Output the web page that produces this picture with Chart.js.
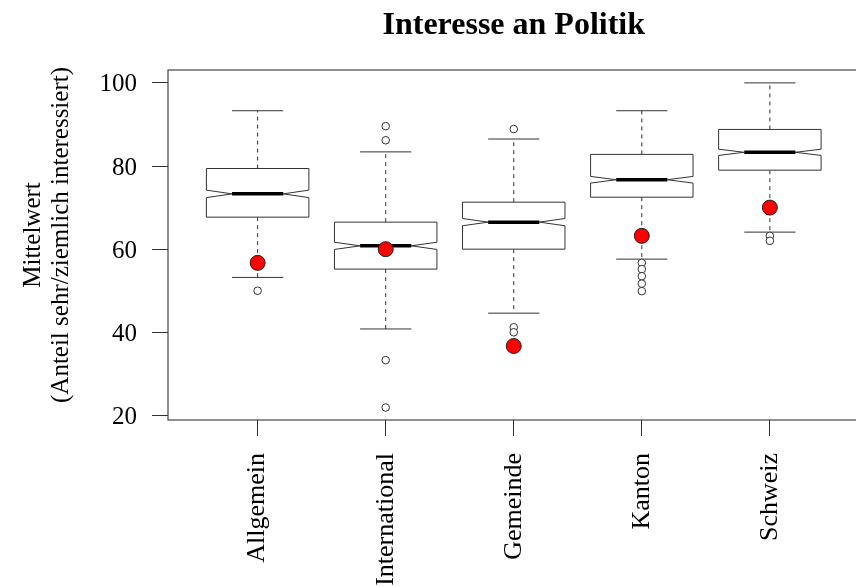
<!DOCTYPE html>
<html>
<head>
<meta http-equiv="content-type" content="text/html; charset=UTF-8">
<script src="https://cdn.jsdelivr.net/npm/chart.js@4/dist/chart.umd.min.js"></script>
<style>
  html, body { margin: 0; padding: 0; overflow: hidden; background: #fff; }
  canvas { display: block; }
</style>
</head>
<body>
<canvas id="box-chart" width="868" height="586"></canvas>
<script>
// categories and box statistics
var categories = ['Allgemein', 'International', 'Gemeinde', 'Kanton', 'Schweiz'];
var whiskerLow = [53.2, 40.8, 44.6, 57.6, 64.1];
var q1 = [67.7, 55.2, 60.0, 72.5, 79.0];
var median = [73.3, 60.8, 66.5, 76.7, 83.3];
var q3 = [79.4, 66.5, 71.3, 82.8, 88.8];
var whiskerHigh = [93.3, 83.4, 86.5, 93.3, 100.0];
var notch = [0.9, 0.87, 0.87, 0.8, 0.75];
// outliers per category
var outliers = [
  [50.0],
  [89.6, 86.2, 33.3, 21.9],
  [88.9, 41.2, 40.0],
  [56.7, 55.2, 53.5, 51.7, 49.9],
  [63.2, 62.0]
];
// red points (Mittelwert)
var means = [56.7, 60.0, 36.7, 63.2, 70.0];
var yTicks = [20, 40, 60, 80, 100];

var serif = "'Liberation Serif', 'DejaVu Serif', serif";
var boxWidth = 0.8;

var outlierPoints = [];
outliers.forEach(function(list, i) {
  list.forEach(function(v) { outlierPoints.push({x: i + 1, y: v}); });
});
var meanPoints = means.map(function(v, i) { return {x: i + 1, y: v}; });

function hline(ctx, x1, x2, y) {
  ctx.beginPath(); ctx.moveTo(x1, y); ctx.lineTo(x2, y); ctx.stroke();
}
function vline(ctx, x, y1, y2) {
  ctx.beginPath(); ctx.moveTo(x, y1); ctx.lineTo(x, y2); ctx.stroke();
}

// draws frame, notched boxes, title and y axis title
var boxPlugin = {
  id: 'notchedBoxes',
  beforeDatasetsDraw: function(chart) {
    var ctx = chart.ctx, xs = chart.scales.x, ys = chart.scales.y, a = chart.chartArea;
    ctx.save();
    ctx.strokeStyle = '#222';
    ctx.lineWidth = 1;
    ctx.strokeRect(a.left, a.top, a.right - a.left, a.bottom - a.top);

    for (var i = 0; i < categories.length; i++) {
      var cx = xs.getPixelForValue(i + 1);
      var hw = xs.getPixelForValue(i + 1 + boxWidth / 2) - cx;
      var yLo = ys.getPixelForValue(whiskerLow[i]);
      var yHi = ys.getPixelForValue(whiskerHigh[i]);
      var yq1 = ys.getPixelForValue(q1[i]);
      var yq3 = ys.getPixelForValue(q3[i]);
      var ym = ys.getPixelForValue(median[i]);
      var nLo = ys.getPixelForValue(median[i] - notch[i]);
      var nHi = ys.getPixelForValue(median[i] + notch[i]);

      ctx.lineWidth = 1;
      ctx.strokeStyle = '#333';
      // whiskers
      ctx.setLineDash([4, 4]);
      vline(ctx, cx, yq3, yHi);
      vline(ctx, cx, yq1, yLo);
      ctx.setLineDash([]);
      hline(ctx, cx - hw / 2, cx + hw / 2, yHi);
      hline(ctx, cx - hw / 2, cx + hw / 2, yLo);

      // notched box
      ctx.beginPath();
      ctx.moveTo(cx - hw, yq3);
      ctx.lineTo(cx + hw, yq3);
      ctx.lineTo(cx + hw, nHi);
      ctx.lineTo(cx + hw / 2, ym);
      ctx.lineTo(cx + hw, nLo);
      ctx.lineTo(cx + hw, yq1);
      ctx.lineTo(cx - hw, yq1);
      ctx.lineTo(cx - hw, nLo);
      ctx.lineTo(cx - hw / 2, ym);
      ctx.lineTo(cx - hw, nHi);
      ctx.closePath();
      ctx.fillStyle = '#fff';
      ctx.fill();
      ctx.stroke();

      // median
      ctx.lineWidth = 3.5;
      ctx.strokeStyle = '#000';
      hline(ctx, cx - hw / 2, cx + hw / 2, ym);
    }

    // title over the plot region
    ctx.fillStyle = '#000';
    ctx.font = 'bold 32px ' + serif;
    ctx.textAlign = 'center';
    ctx.textBaseline = 'alphabetic';
    ctx.fillText('Interesse an Politik', (a.left + a.right) / 2, 34);

    // y axis title, two lines
    ctx.font = '25px ' + serif;
    ctx.textBaseline = 'middle';
    ctx.translate(0, 235);
    ctx.rotate(-Math.PI / 2);
    ctx.fillText('Mittelwert', 0, 33);
    ctx.fillText('(Anteil sehr/ziemlich interessiert)', 0, 61);
    ctx.restore();
  }
};

var ctx = document.getElementById('box-chart').getContext('2d');
var chart = new Chart(ctx, {
  type: 'scatter',
  data: {
    datasets: [{
      data: outlierPoints,
      pointRadius: 3.8,
      pointBackgroundColor: '#fff',
      pointBorderColor: '#333',
      pointBorderWidth: 1
    }, {
      data: meanPoints,
      pointRadius: 7.5,
      pointBackgroundColor: '#ff0000',
      pointBorderColor: '#222',
      pointBorderWidth: 1
    }]
  },
  options: {
    responsive: false,
    animation: false,
    devicePixelRatio: 1,
    layout: { padding: { top: 70, left: 0, right: 0, bottom: 0 } },
    plugins: { legend: { display: false }, tooltip: { enabled: false } },
    scales: {
      x: {
        type: 'linear',
        min: 0.3,
        max: 5.7,
        afterBuildTicks: function(scale) {
          scale.ticks = categories.map(function(c, i) { return {value: i + 1}; });
        },
        afterFit: function(scale) { scale.height = 166; },
        grid: { drawOnChartArea: false, drawTicks: true, tickLength: 16, color: '#333' },
        border: { display: false },
        ticks: {
          autoSkip: false,
          minRotation: 90,
          maxRotation: 90,
          padding: 17,
          color: '#000',
          font: { family: serif, size: 26 },
          callback: function(v) { return categories[v - 1]; }
        }
      },
      y: {
        min: 18.9,
        max: 103.1,
        afterBuildTicks: function(scale) {
          scale.ticks = yTicks.map(function(v) { return {value: v}; });
        },
        afterFit: function(scale) { scale.width = 168; },
        grid: { drawOnChartArea: false, drawTicks: true, tickLength: 16, color: '#333' },
        border: { display: false },
        ticks: {
          padding: 15,
          labelOffset: 2,
          color: '#000',
          font: { family: serif, size: 25 }
        }
      }
    }
  },
  plugins: [boxPlugin]
});
</script>
</body>
</html>
